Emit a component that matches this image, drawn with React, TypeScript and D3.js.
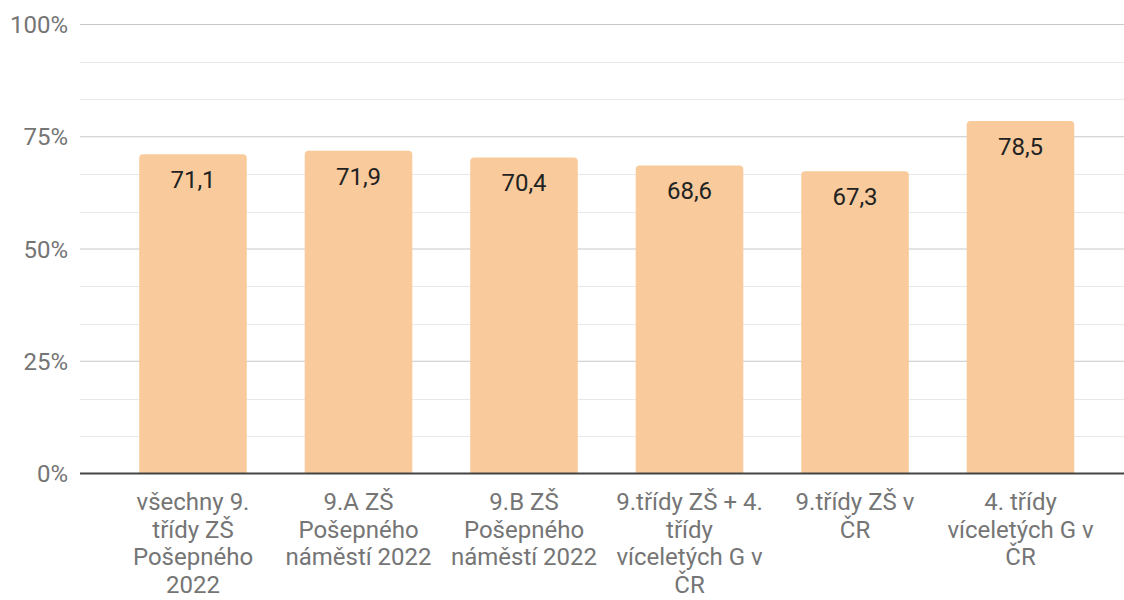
import { useEffect, useRef } from "react";
import * as d3 from "d3";

// categories (already wrapped into lines the way the chart shows them)
const categories: string[][] = [
  ["všechny 9.", "třídy ZŠ", "Pošepného", "2022"],
  ["9.A ZŠ", "Pošepného", "náměstí 2022"],
  ["9.B ZŠ", "Pošepného", "náměstí 2022"],
  ["9.třídy ZŠ + 4.", "třídy", "víceletých G v", "ČR"],
  ["9.třídy ZŠ v", "ČR"],
  ["4. třídy", "víceletých G v", "ČR"],
];

const values: number[] = [71.1, 71.9, 70.4, 68.6, 67.3, 78.5];

const yTicks: number[] = [0, 25, 50, 75, 100];

export default function App() {
  const svgRef = useRef<SVGSVGElement | null>(null);

  useEffect(() => {
    if (!svgRef.current) return;

    const W = 1124;
    const H = 600;
    const gridLeft = 80;
    const gridRight = 1124;
    const top = 24.5;
    const bottom = 473.5;
    const font = "Roboto, 'Noto Sans', Arial, sans-serif";
    const fs = 24;

    d3.select(svgRef.current).selectAll("*").remove();

    const svg = d3
      .select<SVGSVGElement, unknown>(svgRef.current)
      .attr("width", W)
      .attr("height", H);

    const ids = categories.map((_, i) => String(i));

    const x = d3
      .scaleBand()
      .domain(ids)
      .range([110.25, 1103.25])
      .paddingInner(0.35)
      .paddingOuter(0.175);

    const y = d3.scaleLinear().domain([0, 100]).range([bottom, top]);

    // minor gridlines (3 steps between each major tick)
    const minor = d3.range(0, 100, 25 / 3).filter((v) => v % 25 > 0.01);
    svg
      .append("g")
      .selectAll("line")
      .data(minor)
      .enter()
      .append("line")
      .attr("x1", gridLeft)
      .attr("x2", gridRight)
      .attr("y1", (d) => Math.round(y(d)) + 0.5)
      .attr("y2", (d) => Math.round(y(d)) + 0.5)
      .attr("stroke", "#e8e8e8")
      .attr("stroke-width", 1);

    svg
      .append("g")
      .selectAll("line")
      .data(yTicks.filter((t) => t > 0))
      .enter()
      .append("line")
      .attr("x1", gridLeft)
      .attr("x2", gridRight)
      .attr("y1", (d) => y(d))
      .attr("y2", (d) => y(d))
      .attr("stroke", "#c8c8c8")
      .attr("stroke-width", 1);

    // y tick labels
    svg
      .append("g")
      .selectAll("text")
      .data(yTicks)
      .enter()
      .append("text")
      .attr("x", 68)
      .attr("y", (d) => y(d) + 8.5)
      .attr("text-anchor", "end")
      .attr("font-family", font)
      .attr("font-size", fs)
      .attr("fill", "#757575")
      .text((d) => `${d}%`);

    // bars with rounded top corners
    const r = 4;
    const barPath = (x0: number, w: number, y0: number) => {
      const y1 = bottom;
      return `M${x0},${y1}V${y0 + r}Q${x0},${y0} ${x0 + r},${y0}H${x0 + w - r}Q${x0 + w},${y0} ${x0 + w},${y0 + r}V${y1}Z`;
    };

    svg
      .append("g")
      .selectAll("path")
      .data(values)
      .enter()
      .append("path")
      .attr("d", (d, i) => barPath(x(String(i)) ?? 0, x.bandwidth(), y(d)))
      .attr("fill", "#f9cb9c");

    // value labels
    svg
      .append("g")
      .selectAll("text")
      .data(values)
      .enter()
      .append("text")
      .attr("x", (_, i) => (x(String(i)) ?? 0) + x.bandwidth() / 2)
      .attr("y", (d) => y(d) + 34)
      .attr("text-anchor", "middle")
      .attr("font-family", font)
      .attr("font-size", fs)
      .attr("fill", "#222222")
      .text((d) => d.toFixed(1).replace(".", ","));

    // baseline
    svg
      .append("line")
      .attr("x1", gridLeft)
      .attr("x2", gridRight)
      .attr("y1", bottom)
      .attr("y2", bottom)
      .attr("stroke", "#444444")
      .attr("stroke-width", 2);

    // x labels
    const xl = svg.append("g");
    categories.forEach((lines, i) => {
      const cx = (x(String(i)) ?? 0) + x.bandwidth() / 2;
      const t = xl
        .append("text")
        .attr("text-anchor", "middle")
        .attr("font-family", font)
        .attr("font-size", fs)
        .attr("fill", "#757575");
      lines.forEach((ln, j) => {
        t.append("tspan")
          .attr("x", cx)
          .attr("y", bottom + 36.5 + j * 27.5)
          .text(ln);
      });
    });
  }, []);

  return (
    <div style={{ position: "absolute", left: 0, top: 0 }}>
      <svg ref={svgRef} style={{ display: "block" }}></svg>
    </div>
  );
}
